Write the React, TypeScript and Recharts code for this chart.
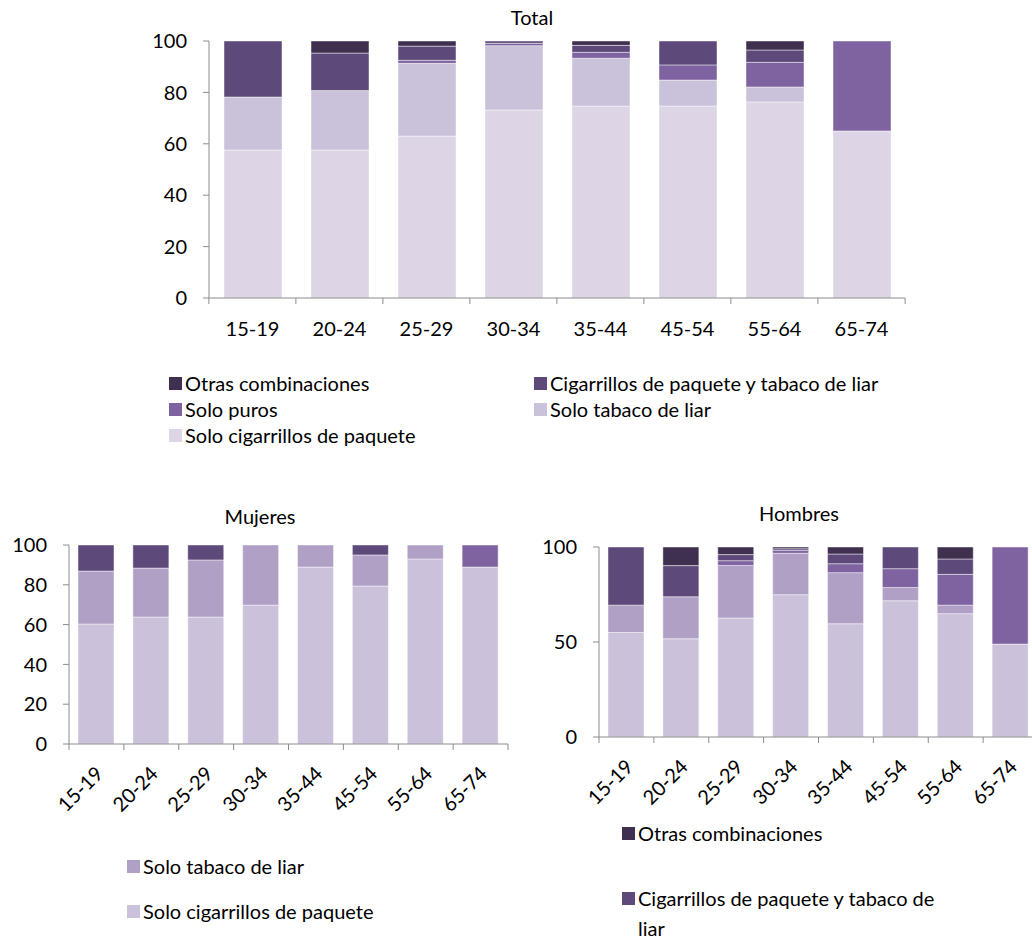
import React from 'react';
import { BarChart, Bar, XAxis, YAxis } from 'recharts';

const ageGroups = ['15-19', '20-24', '25-29', '30-34', '35-44', '45-54', '55-64', '65-74'];

// Total
const totalCigarrillos = [57.6, 57.6, 63.0, 73.2, 74.7, 74.7, 76.3, 65.0];
const totalLiar = [20.6, 23.1, 28.3, 25.0, 18.6, 10.1, 5.8, 0];
const totalPuros = [0, 0, 1.2, 0.9, 2.3, 5.9, 9.6, 35.0];
const totalMixto = [21.8, 14.6, 5.5, 0.9, 2.7, 9.3, 4.8, 0];
const totalOtras = [0, 4.7, 2.0, 0, 1.7, 0, 3.5, 0];

// Mujeres
const mujCigarrillos = [60.3, 63.8, 63.8, 69.8, 88.9, 79.4, 93.0, 88.9];
const mujLiar = [26.6, 24.6, 28.7, 30.2, 11.1, 15.6, 7.0, 0];
const mujPuros = [0, 0, 0, 0, 0, 0, 0, 11.1];
const mujMixto = [13.1, 11.6, 7.5, 0, 0, 5.0, 0, 0];

// Hombres
const homCigarrillos = [55.0, 51.7, 62.6, 74.9, 59.6, 71.7, 64.9, 48.9];
const homLiar = [14.4, 22.1, 27.7, 21.8, 26.9, 7.0, 4.5, 0];
const homPuros = [0, 0, 2.5, 1.5, 4.7, 9.9, 16.2, 51.1];
const homMixto = [30.6, 16.4, 3.2, 0.9, 5.1, 11.4, 8.1, 0];
const homOtras = [0, 9.8, 4.0, 0.9, 3.7, 0, 6.3, 0];

const totalTicks = [0, 20, 40, 60, 80, 100];
const mujTicks = [0, 20, 40, 60, 80, 100];
const homTicks = [0, 50, 100];

const FONT = 'Lato, "Open Sans", sans-serif';
const FS = 20;
const AXIS = '#8c8c8c';

const C_OTRAS = '#3F3050';
const C_MIXTO = '#5E4A7A';
const C_PUROS = '#7F63A0';
const C_LIAR_TOP = '#CAC1DA';
const C_CIG_TOP = '#DDD5E6';
const C_LIAR = '#B0A0C6';
const C_CIG = '#CBC1DA';

const build = (cig: number[], liar: number[], puros: number[], mixto: number[], otras: number[]) =>
  ageGroups.map((name, i) => ({
    name,
    cig: cig[i],
    liar: liar[i],
    puros: puros[i],
    mixto: mixto[i],
    otras: otras[i],
  }));

const totalData = build(totalCigarrillos, totalLiar, totalPuros, totalMixto, totalOtras);
const mujData = build(mujCigarrillos, mujLiar, mujPuros, mujMixto, ageGroups.map(() => 0));
const homData = build(homCigarrillos, homLiar, homPuros, homMixto, homOtras);

// x tick: label plus Excel-style marks on category boundaries
const makeTick = (step: number, rotated: boolean) => (props: any) => {
  const { x, y, payload, index } = props;
  const last = index === ageGroups.length - 1;
  return (
    <g>
      <line x1={x - step / 2} y1={y} x2={x - step / 2} y2={y + 6} stroke={AXIS} />
      {last && <line x1={x + step / 2} y1={y} x2={x + step / 2} y2={y + 6} stroke={AXIS} />}
      {rotated ? (
        <text
          transform={`translate(${x + 8},${y + 31}) rotate(-45)`}
          textAnchor="end"
          fontSize={FS}
          fontFamily={FONT}
          fill="#000"
        >
          {payload.value}
        </text>
      ) : (
        <text x={x} y={y + 38} textAnchor="middle" fontSize={FS} fontFamily={FONT} fill="#000">
          {payload.value}
        </text>
      )}
    </g>
  );
};

const segStroke = { stroke: 'rgba(255,255,255,0.45)', strokeWidth: 1 };

const Swatch = ({ color, lines, x, y }: { color: string; lines: string[]; x: number; y: number }) => (
  <div
    style={{
      position: 'absolute',
      left: x,
      top: y,
      display: 'flex',
      alignItems: 'flex-start',
      fontFamily: FONT,
      fontSize: FS,
      lineHeight: '30px',
      color: '#000',
      whiteSpace: 'nowrap',
    }}
  >
    <span style={{ width: 13, height: 13, background: color, marginTop: 9, marginRight: 3, flexShrink: 0 }} />
    <span>
      {lines.map((l, i) => (
        <div key={i}>{l}</div>
      ))}
    </span>
  </div>
);

const Title = ({ text, cx, cy }: { text: string; cx: number; cy: number }) => (
  <div
    style={{
      position: 'absolute',
      left: cx - 100,
      top: cy - 13,
      width: 200,
      textAlign: 'center',
      fontFamily: FONT,
      fontSize: FS,
      lineHeight: '26px',
      color: '#000',
    }}
  >
    {text}
  </div>
);

const yTickStyle = { fontSize: FS, fontFamily: FONT, fill: '#000' };

export default function App() {
  return (
    <div
      style={{
        position: 'absolute',
        left: 0,
        top: 0,
        width: 1032,
        height: 940,
        overflow: 'hidden',
        background: '#fff',
      }}
    >
      <Title text="Total" cx={532} cy={17} />
      <div style={{ position: 'absolute', left: 0, top: 0 }}>
        <BarChart
          width={1032}
          height={360}
          data={totalData}
          margin={{ top: 41, right: 127, left: 0, bottom: 0 }}
          barSize={58}
        >
          <YAxis
            domain={[0, 100]}
            ticks={totalTicks}
            width={209}
            stroke={AXIS}
            tickSize={6}
            tick={yTickStyle}
            tickMargin={16}
            interval={0}
          />
          <XAxis
            dataKey="name"
            height={62}
            stroke={AXIS}
            tickLine={false}
            tickSize={0}
            tickMargin={0}
            interval={0}
            tick={makeTick(698 / 8, false)}
          />
          <Bar dataKey="cig" stackId="a" fill={C_CIG_TOP} {...segStroke} isAnimationActive={false} />
          <Bar dataKey="liar" stackId="a" fill={C_LIAR_TOP} {...segStroke} isAnimationActive={false} />
          <Bar dataKey="puros" stackId="a" fill={C_PUROS} {...segStroke} isAnimationActive={false} />
          <Bar dataKey="mixto" stackId="a" fill={C_MIXTO} {...segStroke} isAnimationActive={false} />
          <Bar dataKey="otras" stackId="a" fill={C_OTRAS} {...segStroke} isAnimationActive={false} />
        </BarChart>
      </div>
      <Swatch color={C_OTRAS} lines={['Otras combinaciones']} x={169} y={368} />
      <Swatch color={C_MIXTO} lines={['Cigarrillos de paquete y tabaco de liar']} x={534} y={368} />
      <Swatch color={C_PUROS} lines={['Solo puros']} x={169} y={394} />
      <Swatch color={C_LIAR_TOP} lines={['Solo tabaco de liar']} x={534} y={394} />
      <Swatch color={C_CIG_TOP} lines={['Solo cigarrillos de paquete']} x={169} y={420} />

      <Title text="Mujeres" cx={260} cy={516} />
      <div style={{ position: 'absolute', left: 0, top: 500 }}>
        <BarChart
          width={520}
          height={330}
          data={mujData}
          margin={{ top: 45, right: 12, left: 0, bottom: 20 }}
          barSize={36}
        >
          <YAxis
            domain={[0, 100]}
            ticks={mujTicks}
            width={69}
            stroke={AXIS}
            tickSize={6}
            tick={yTickStyle}
            tickMargin={16}
            interval={0}
          />
          <XAxis
            dataKey="name"
            height={66}
            stroke={AXIS}
            tickLine={false}
            tickSize={0}
            tickMargin={0}
            interval={0}
            tick={makeTick(439 / 8, true)}
          />
          <Bar dataKey="cig" stackId="m" fill={C_CIG} {...segStroke} isAnimationActive={false} />
          <Bar dataKey="liar" stackId="m" fill={C_LIAR} {...segStroke} isAnimationActive={false} />
          <Bar dataKey="puros" stackId="m" fill={C_PUROS} {...segStroke} isAnimationActive={false} />
          <Bar dataKey="mixto" stackId="m" fill={C_MIXTO} {...segStroke} isAnimationActive={false} />
          <Bar dataKey="otras" stackId="m" fill={C_OTRAS} {...segStroke} isAnimationActive={false} />
        </BarChart>
      </div>
      <Swatch color={C_LIAR} lines={['Solo tabaco de liar']} x={127} y={851} />
      <Swatch color={C_CIG} lines={['Solo cigarrillos de paquete']} x={127} y={896} />

      <Title text="Hombres" cx={799} cy={513} />
      <div style={{ position: 'absolute', left: 520, top: 500 }}>
        <BarChart
          width={520}
          height={330}
          data={homData}
          margin={{ top: 47, right: 2, left: 0, bottom: 20 }}
          barSize={36}
        >
          <YAxis
            domain={[0, 100]}
            ticks={homTicks}
            width={79}
            stroke={AXIS}
            tickSize={6}
            tick={yTickStyle}
            tickMargin={16}
            interval={0}
          />
          <XAxis
            dataKey="name"
            height={73}
            stroke={AXIS}
            tickLine={false}
            tickSize={0}
            tickMargin={0}
            interval={0}
            tick={makeTick(439 / 8, true)}
          />
          <Bar dataKey="cig" stackId="h" fill={C_CIG} {...segStroke} isAnimationActive={false} />
          <Bar dataKey="liar" stackId="h" fill={C_LIAR} {...segStroke} isAnimationActive={false} />
          <Bar dataKey="puros" stackId="h" fill={C_PUROS} {...segStroke} isAnimationActive={false} />
          <Bar dataKey="mixto" stackId="h" fill={C_MIXTO} {...segStroke} isAnimationActive={false} />
          <Bar dataKey="otras" stackId="h" fill={C_OTRAS} {...segStroke} isAnimationActive={false} />
        </BarChart>
      </div>
      <Swatch color={C_OTRAS} lines={['Otras combinaciones']} x={622} y={818} />
      <Swatch color={C_MIXTO} lines={['Cigarrillos de paquete y tabaco de', 'liar']} x={622} y={883} />
    </div>
  );
}
